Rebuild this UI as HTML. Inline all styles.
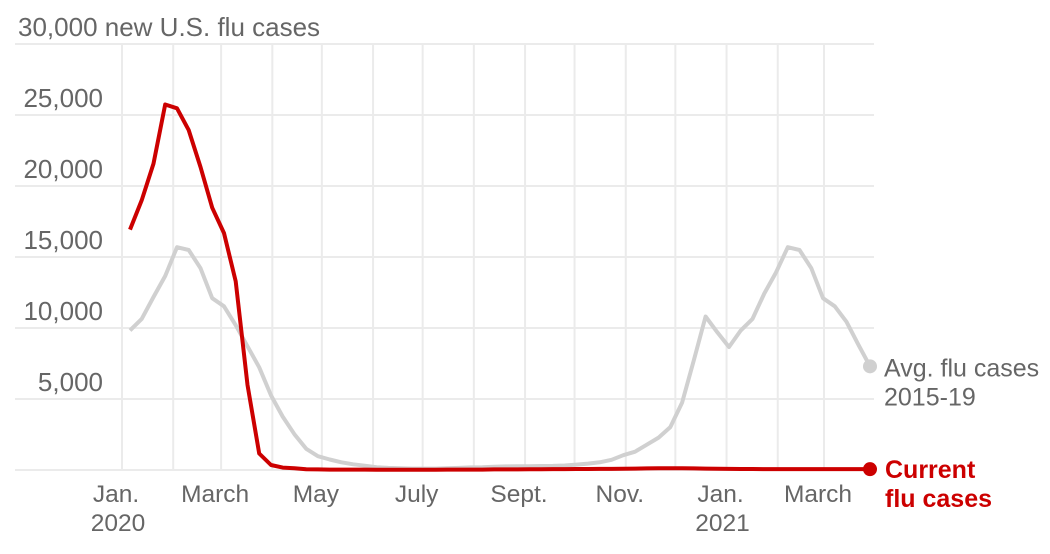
<!DOCTYPE html>
<html><head><meta charset="utf-8">
<style>
body{margin:0;background:#fff;width:1050px;height:549px;overflow:hidden}
svg text{font-family:"Liberation Sans",sans-serif}
</style></head>
<body>
<svg id="chart" width="1050" height="549" viewBox="0 0 1050 549" xmlns="http://www.w3.org/2000/svg"></svg>
<script>
const yTicks = [0, 5000, 10000, 15000, 20000, 25000, 30000];
const yTickLabels = ["", "5,000", "10,000", "15,000", "20,000", "25,000", "30,000 new U.S. flu cases"];
const monthLabels = ["Jan.", "March", "May", "July", "Sept.", "Nov.", "Jan.", "March"];
const monthLabelDays = [0, 60, 121, 182, 244, 305, 366, 425];
const yearLabels = ["2020", "2021"];
const yearLabelDays = [0, 366];
const avgCases = [9830,10640,12180,13660,15690,15490,14210,12100,11530,10200,8710,7230,5250,3760,2520,1490,970,740,540,400,300,200,150,120,
 100,100,100,120,150,180,200,230,250,260,270,280,290,320,380,450,
 540,720,1040,1290,1780,2280,3020,4750,7720,10810,9700,8660,9830,10640,12430,13910,15690,15490,14210,12100,11530,10440,8830,7300];
const currentCases = [16930,18990,21580,25740,25470,23940,21340,18470,16680,13290,5990,1160,350,170,120,50,
 40,30,30,30,30,20,20,20,20,20,20,30,30,30,30,40,40,40,50,50,60,60,70,70,80,80,90,100,110,120,130,120,110,100,90,80,70,70,60,60,60,60,60,60,60,60,60,60];

const svg = document.getElementById('chart');
const NS = 'http://www.w3.org/2000/svg';
const X0 = 130, X1 = 870, Y0 = 470, Y1 = 44;
const nWeeks = avgCases.length;
const xDay = d => 122 + d * (824 - 122) / 425;
const xWeek = i => X0 + i / (nWeeks - 1) * (X1 - X0);
const yVal = v => Y0 - v / 30000 * (Y0 - Y1);

function mk(tag, attrs, parent) {
  const e = document.createElementNS(NS, tag);
  for (const k in attrs) e.setAttribute(k, attrs[k]);
  (parent || svg).appendChild(e);
  return e;
}
const gridG = mk('g', {});


const monthStarts = [0,31,60,91,121,152,182,213,244,274,305,335,366,397,425];
monthStarts.forEach(d => {
  const l = mk('line', {x1: xDay(d), x2: xDay(d), y1: Y1, y2: Y0, stroke: '#ebebeb', 'stroke-width': 2}, gridG);
  
  
});
yTicks.forEach((v, i) => {
  const l = mk('line', {x1: 15, x2: 874, y1: yVal(v), y2: yVal(v), stroke: '#ebebeb', 'stroke-width': 2}, gridG);
  
  
  if (yTickLabels[i]) {
    const last = i === yTicks.length - 1;
    const t = mk('text', {x: last ? 18 : 103, y: yVal(v) - 8, 'text-anchor': last ? 'start' : 'end', 'font-size': 26, fill: '#666'});
    t.textContent = yTickLabels[i];
    
    
  }
});
monthLabels.forEach((m, i) => {
  const t = mk('text', {x: xDay(monthLabelDays[i]) - 6, y: 502, 'text-anchor': 'middle', 'font-size': 24.5, fill: '#666'});
  t.textContent = m;
  
  
});
yearLabels.forEach((m, i) => {
  const t = mk('text', {x: xDay(yearLabelDays[i]) - 4, y: 531, 'text-anchor': 'middle', 'font-size': 24.5, fill: '#666'});
  t.textContent = m;
  
  
});
function pts(arr) { return arr.map((v, i) => xWeek(i).toFixed(1) + ',' + yVal(v).toFixed(1)).join(' '); }
const avgLine = mk('polyline', {points: pts(avgCases), fill: 'none', stroke: '#d0d0d0', 'stroke-width': 4, 'stroke-linejoin': 'round'});


const curLine = mk('polyline', {points: pts(currentCases), fill: 'none', stroke: '#cc0000', 'stroke-width': 4, 'stroke-linejoin': 'round'});


const la = avgCases.length - 1, lc = currentCases.length - 1;
const d1 = mk('circle', {cx: xWeek(la), cy: yVal(avgCases[la]), r: 7, fill: '#d0d0d0'});


const d2 = mk('circle', {cx: xWeek(lc), cy: yVal(currentCases[lc]), r: 7, fill: '#cc0000'});


const ay = yVal(avgCases[la]);
const a1 = mk('text', {x: 884, y: ay + 10, 'font-size': 25, fill: '#666'}); a1.textContent = 'Avg. flu cases';


const a2 = mk('text', {x: 884, y: ay + 39, 'font-size': 25, fill: '#666'}); a2.textContent = '2015-19';


const cy = yVal(currentCases[lc]);
const c1 = mk('text', {x: 885, y: cy + 9, 'font-size': 25, 'font-weight': 'bold', fill: '#cc0000'}); c1.textContent = 'Current';


const c2 = mk('text', {x: 885, y: cy + 38, 'font-size': 25, 'font-weight': 'bold', fill: '#cc0000'}); c2.textContent = 'flu cases';


</script>
</body></html>
